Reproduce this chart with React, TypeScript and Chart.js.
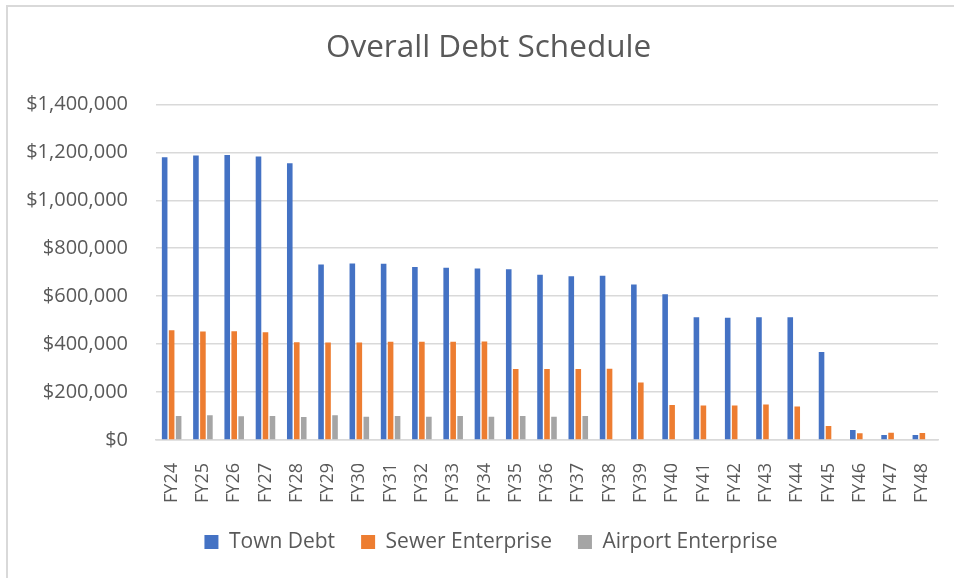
import React, { useEffect, useRef } from "react";
import { Chart, registerables } from "chart.js";

Chart.register(...registerables);

const categories = [
  "FY24", "FY25", "FY26", "FY27", "FY28", "FY29", "FY30", "FY31", "FY32",
  "FY33", "FY34", "FY35", "FY36", "FY37", "FY38", "FY39", "FY40", "FY41",
  "FY42", "FY43", "FY44", "FY45", "FY46", "FY47", "FY48",
];

const townDebt = [
  1180000, 1187000, 1189000, 1183000, 1155000, 732000, 736000, 735000, 722000,
  719000, 715000, 712000, 689000, 683000, 685000, 649000, 608000, 512000,
  510000, 512000, 512000, 367000, 42000, 21000, 21000,
];

const sewerEnterprise = [
  458000, 453000, 454000, 450000, 408000, 407000, 407000, 410000, 410000,
  410000, 411000, 296000, 296000, 296000, 297000, 240000, 146000, 144000,
  144000, 148000, 140000, 58000, 28000, 30500, 29000,
];

const airportEnterprise = [
  100000, 103000, 98600, 100000, 96000, 103000, 97000, 100000, 97000,
  100000, 97000, 100000, 97000, 100000, null, null, null, null,
  null, null, null, null, null, null, null,
];

const yTicks = [0, 200000, 400000, 600000, 800000, 1000000, 1200000, 1400000];

const FONT = "'Open Sans', 'Noto Sans', sans-serif";
const TEXT = "#595959";
const GRID = "#d9d9d9";

const shiftBlocks = {
  id: "shiftBlocks",
  afterLayout(chart: any) {
    if (chart.titleBlock) chart.titleBlock.left = 39;
    if (chart.legend) {
      const lg = chart.legend;
      const h = lg.bottom - lg.top;
      lg.left = 44;
      lg.top = 505.5;
      lg.bottom = 505.5 + h;
    }
  },
};

export default function App() {
  const ref = useRef<HTMLCanvasElement | null>(null);

  useEffect(() => {
    if (!ref.current) return;
    const chart = new Chart(ref.current, {
      type: "bar",
      data: {
        labels: categories,
        datasets: [
          { label: "Town Debt", data: townDebt, backgroundColor: "#4472C4" },
          { label: "Sewer Enterprise", data: sewerEnterprise, backgroundColor: "#ED7D31" },
          { label: "Airport Enterprise", data: airportEnterprise, backgroundColor: "#A5A5A5" },
        ],
      },
      options: {
        animation: false,
        responsive: false,
        maintainAspectRatio: false,
        datasets: { bar: { categoryPercentage: 0.67, barPercentage: 0.8 } },
        layout: { padding: { left: 0, right: 16, top: 0, bottom: 11 } },
        plugins: {
          title: {
            display: true,
            text: "Overall Debt Schedule",
            color: TEXT,
            font: { family: FONT, size: 31.5, weight: "normal", lineHeight: 1.2 },
            padding: { top: 29, bottom: 37.6 },
          },
          legend: {
            position: "bottom",
            labels: {
              color: TEXT,
              font: { family: FONT, size: 21 },
              boxWidth: 14,
              boxHeight: 14,
              padding: 26,
            },
          },
          tooltip: { enabled: false },
        },
        scales: {
          x: {
            grid: { display: false },
            border: { display: true, color: GRID, width: 1.5 },
            ticks: {
              color: TEXT,
              font: { family: FONT, size: 18 },
              maxRotation: 90,
              minRotation: 90,
              padding: 15,
              autoSkip: false,
            },
            afterFit: (s: any) => {
              s.height = 70;
              s.paddingLeft = 0;
              s.paddingRight = 0;
            },
          },
          y: {
            min: 0,
            max: 1400000,
            grid: { color: GRID, lineWidth: 1.5, drawTicks: false },
            border: { display: false },
            afterBuildTicks: (s: any) => {
              s.ticks = yTicks.map((v) => ({ value: v }));
            },
            ticks: {
              color: TEXT,
              font: { family: FONT, size: 20 },
              padding: 28,
              callback: (v: any) => "$" + Number(v).toLocaleString("en-US"),
            },
            afterFit: (s: any) => {
              s.width = 156;
            },
          },
        },
      },
      plugins: [shiftBlocks],
    });
    return () => chart.destroy();
  }, []);

  return (
    <div style={{ position: "fixed", left: 0, top: 0, width: 954, height: 578, background: "#fff", overflow: "hidden" }}>
      <canvas ref={ref} width={954} height={578} style={{ position: "absolute", left: 0, top: 0 }} />
      <div
        style={{
          position: "absolute",
          left: 6,
          top: 5,
          width: 960,
          height: 600,
          borderLeft: "2px solid #d9d9d9",
          borderTop: "2px solid #d9d9d9",
          pointerEvents: "none",
        }}
      />
    </div>
  );
}
